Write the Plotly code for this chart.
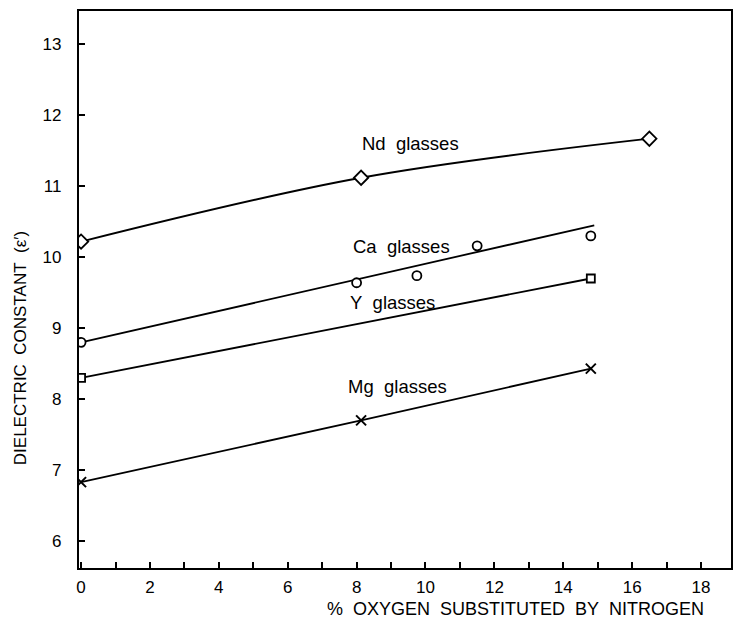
import plotly.graph_objects as go

# ---- data ----
nd_x = [0, 8.13, 16.5]
nd_y = [10.22, 11.12, 11.67]

ca_x = [0, 8.0, 9.75, 11.5, 14.8]
ca_y = [8.8, 9.64, 9.74, 10.16, 10.3]
ca_fit_x = [0, 14.9]
ca_fit_y = [8.8, 10.45]

y_x = [0, 14.8]
y_y = [8.3, 9.7]

mg_x = [0, 8.13, 14.8]
mg_y = [6.83, 7.7, 8.43]

x_tickvals = list(range(0, 19))
x_ticktext = [str(v) if v % 2 == 0 else "" for v in x_tickvals]
y_tickvals = [6, 7, 8, 9, 10, 11, 12, 13]
y_ticktext = [str(v) for v in y_tickvals]

series_labels = ["Nd\u00a0\u00a0glasses", "Ca\u00a0\u00a0glasses", "Y\u00a0\u00a0glasses", "Mg\u00a0\u00a0glasses"]

FONT = "Liberation Sans"
LW = 1.8
fig = go.Figure()

# Nd: smooth curve with open diamonds
fig.add_trace(go.Scatter(x=nd_x, y=nd_y, mode="lines+markers",
                         line=dict(color="black", width=LW, shape="spline"),
                         marker=dict(symbol="diamond", size=11, color="white",
                                     line=dict(color="black", width=1.8))))
# Ca: fit line + open circles
fig.add_trace(go.Scatter(x=ca_fit_x, y=ca_fit_y, mode="lines",
                         line=dict(color="black", width=LW)))
fig.add_trace(go.Scatter(x=ca_x, y=ca_y, mode="markers",
                         marker=dict(symbol="circle", size=9, color="white",
                                     line=dict(color="black", width=1.8))))
# Y: line + open squares
fig.add_trace(go.Scatter(x=y_x, y=y_y, mode="lines+markers",
                         line=dict(color="black", width=LW),
                         marker=dict(symbol="square", size=8, color="white",
                                     line=dict(color="black", width=1.8))))
# Mg: line + x markers
fig.add_trace(go.Scatter(x=mg_x, y=mg_y, mode="lines+markers",
                         line=dict(color="black", width=LW),
                         marker=dict(symbol="x-thin", size=10, color="black",
                                     line=dict(color="black", width=2))))

label_pos = [(0.508, 0.763), (0.495, 0.577), (0.481, 0.476), (0.489, 0.325)]
annotations = []
for txt, (ax, ay) in zip(series_labels, label_pos):
    annotations.append(dict(text=txt, x=ax, y=ay, xref="paper", yref="paper",
                            showarrow=False, xanchor="center", yanchor="middle",
                            font=dict(family=FONT, size=18.5, color="black")))

# axis titles as annotations for precise placement
annotations.append(dict(text="%\u00a0\u00a0OXYGEN\u00a0\u00a0SUBSTITUTED\u00a0\u00a0BY\u00a0\u00a0NITROGEN",
                        x=(517 - 79) / 654, y=(568 - 609) / 557,
                        xref="paper", yref="paper", showarrow=False,
                        xanchor="center", yanchor="middle",
                        font=dict(family=FONT, size=18, color="black")))
annotations.append(dict(text="DIELECTRIC\u00a0\u00a0CONSTANT\u00a0\u00a0(\u03b5\u2032)",
                        x=(20 - 79) / 654, y=(568 - 348) / 557,
                        xref="paper", yref="paper", showarrow=False, textangle=-90,
                        xanchor="center", yanchor="middle",
                        font=dict(family=FONT, size=17, color="black")))

fig.update_layout(
    width=740, height=629,
    margin=dict(l=79, r=7, t=11, b=61),
    paper_bgcolor="white", plot_bgcolor="white",
    showlegend=False,
    annotations=annotations,
    font=dict(family=FONT, size=17, color="black"),
    xaxis=dict(range=[-0.06, 18.87], tickvals=x_tickvals, ticktext=x_ticktext,
               ticks="inside", ticklen=6, tickwidth=1.5, tickcolor="black",
               showline=True, linewidth=2.2, linecolor="black", mirror=True,
               showgrid=False, zeroline=False, ticklabelstandoff=2,
               tickfont=dict(family=FONT, size=17, color="black")),
    yaxis=dict(range=[5.62, 13.47], tickvals=y_tickvals, ticktext=y_ticktext,
               ticks="inside", ticklen=6, tickwidth=1.5, tickcolor="black",
               showline=True, linewidth=2.2, linecolor="black", mirror=True,
               showgrid=False, zeroline=False, ticklabelstandoff=12,
               tickfont=dict(family=FONT, size=17, color="black")),
)

fig.write_html("out.html")
